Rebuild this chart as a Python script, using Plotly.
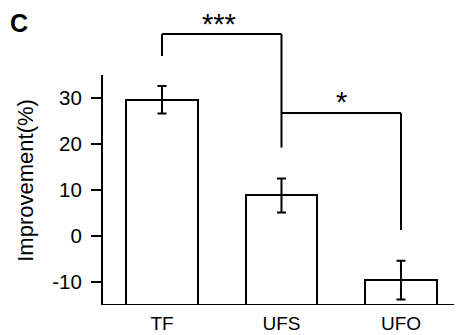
import plotly.graph_objects as go

categories = ["TF", "UFS", "UFO"]
improvement = [29.6, 8.8, -9.6]
err = [3.0, 3.7, 4.2]
y_ticks = [-10, 0, 10, 20, 30]
baseline = -15
axis_top = 35

FONT = "Liberation Sans, Arial, sans-serif"
xs = list(range(len(categories)))

fig = go.Figure()
fig.add_trace(go.Bar(
    x=xs, y=[v - baseline for v in improvement], base=baseline, width=0.6,
    marker=dict(color="white", line=dict(color="black", width=2)),
    hoverinfo="skip", showlegend=False))
fig.add_trace(go.Scatter(
    x=xs, y=improvement, mode="markers", marker=dict(size=1, color="rgba(0,0,0,0)"),
    error_y=dict(type="data", array=err, visible=True, color="black", thickness=2, width=4.5),
    showlegend=False, hoverinfo="skip"))

line = dict(color="black", width=2)
shapes = [
    # y axis line
    dict(type="line", xref="paper", yref="y", x0=0, x1=0, y0=baseline, y1=axis_top, line=line),
    # x axis line
    dict(type="line", xref="paper", yref="y", x0=0, x1=1, y0=baseline, y1=baseline, line=line),
    # bracket 1 (TF vs UFS)
    dict(type="line", xref="x", yref="y", x0=0, x1=0, y0=39.1, y1=43.9, line=line),
    dict(type="line", xref="x", yref="y", x0=0, x1=1, y0=43.9, y1=43.9, line=line),
    dict(type="line", xref="x", yref="y", x0=1, x1=1, y0=43.9, y1=19.2, line=line),
    # bracket 2 (UFS vs UFO)
    dict(type="line", xref="x", yref="y", x0=1, x1=2, y0=26.7, y1=26.7, line=line),
    dict(type="line", xref="x", yref="y", x0=2, x1=2, y0=26.7, y1=1.3, line=line),
]

annotations = [
    dict(text="***", x=0.48, y=46.0, xref="x", yref="y", showarrow=False,
         font=dict(family=FONT, size=29, color="black"), xanchor="center", yanchor="middle"),
    dict(text="*", x=1.5, y=29.2, xref="x", yref="y", showarrow=False,
         font=dict(family=FONT, size=29, color="black"), xanchor="center", yanchor="middle"),
    dict(text="<b>C</b>", x=0, y=1, xref="paper", yref="paper", xshift=-83, yshift=2,
         showarrow=False, borderpad=0, font=dict(family=FONT, size=25, color="black"),
         xanchor="center", yanchor="top"),
    dict(text="Improvement(%)", x=0, y=12, xref="paper", yref="y", xshift=-76,
         textangle=-90, showarrow=False, font=dict(family=FONT, size=22, color="black"),
         xanchor="center", yanchor="middle"),
]

fig.update_layout(
    width=454, height=327,
    margin=dict(l=94, r=2, t=2, b=30),
    paper_bgcolor="white", plot_bgcolor="white",
    shapes=shapes, annotations=annotations,
    bargap=0,
    xaxis=dict(range=[-0.502, 2.494], tickmode="array", tickvals=xs, ticktext=categories,
               showgrid=False, zeroline=False, showline=False, ticks="",
               ticklabelstandoff=5,
               tickfont=dict(family=FONT, size=19, color="black")),
    yaxis=dict(range=[baseline, 49.1], tickmode="array", tickvals=y_ticks,
               ticktext=[str(t) for t in y_ticks],
               showgrid=False, zeroline=False, showline=False,
               ticks="outside", ticklen=10, tickwidth=2, tickcolor="black",
               ticklabelstandoff=5,
               tickfont=dict(family=FONT, size=20.5, color="black")),
)

fig.write_html("out.html")
